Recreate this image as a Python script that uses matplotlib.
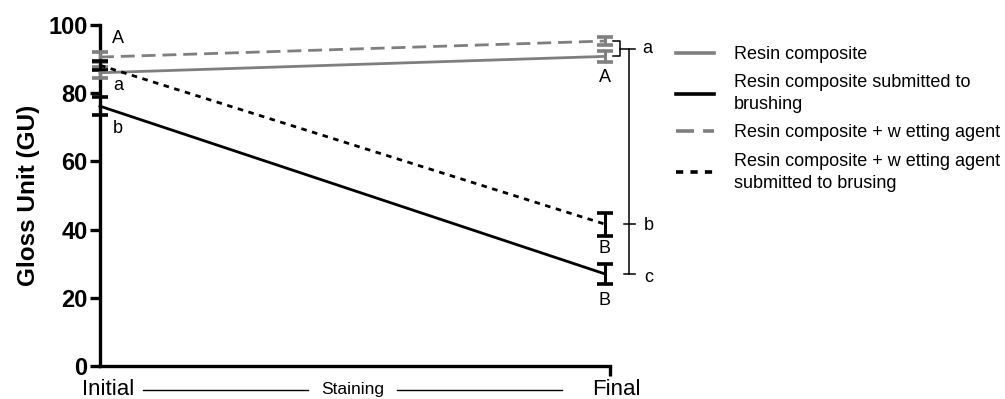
"""
Gloss unit of resin composites before and after staining (line + error bars).
"""
import matplotlib
matplotlib.use("Agg")
import matplotlib.pyplot as plt
from matplotlib.lines import Line2D

plt.rcParams["font.family"] = ["Liberation Sans", "DejaVu Sans"]

# ── Data ──────────────────────────────────────────────
stages = [0.0, 1.0]                 # Initial, Final
stage_labels = ["Initial", "Final"]

rc_mean = [86.0, 90.8]              # Resin composite
rc_sd = [1.6, 1.6]
rcb_mean = [76.2, 27.0]             # ... submitted to brushing
rcb_sd = [2.6, 3.0]
rcw_mean = [90.6, 95.3]             # ... + wetting agent
rcw_sd = [1.4, 1.2]
rcwb_mean = [88.2, 41.6]            # ... + wetting agent submitted to brusing
rcwb_sd = [1.3, 3.4]

labels = [
    "Resin composite",
    "Resin composite submitted to\nbrushing",
    "Resin composite + w etting agent",
    "Resin composite + w etting agent\nsubmitted to brusing",
]

GRAY = "#7f7f7f"
BLACK = "#000000"

fig = plt.figure(figsize=(10.05, 3.99), dpi=100)
ax = fig.add_axes([0.0995, 0.0827, 0.5075, 0.8546])

series = [
    (rc_mean, rc_sd, GRAY, None),
    (rcb_mean, rcb_sd, BLACK, None),
    (rcw_mean, rcw_sd, GRAY, (0, (5, 2.5))),
    (rcwb_mean, rcwb_sd, BLACK, (0, (2, 2))),
]
handles = []
for m, sd, c, dash in series:
    ax.errorbar(stages, m, yerr=sd, color=c, linestyle="none", elinewidth=2.2,
                capsize=5.5, capthick=2.6, clip_on=False, zorder=3)
    line, = ax.plot(stages, m, color=c, lw=2.0, clip_on=False, zorder=4)
    if dash is not None:
        line.set_linestyle(dash)
    handles.append(Line2D([], [], color=c, lw=2.6,
                          linestyle=dash if dash is not None else "-"))

ax.set_xlim(0, 1.01)
ax.set_ylim(0, 100)
ax.set_yticks([0, 20, 40, 60, 80, 100])
ax.tick_params(axis="y", length=7, width=2.4, labelsize=17, pad=2)
for t in ax.get_yticklabels():
    t.set_fontweight("bold")
ax.set_xticks([1.01])
ax.set_xticklabels([""])
ax.tick_params(axis="x", length=7, width=2.4)
ax.spines["top"].set_visible(False)
ax.spines["right"].set_visible(False)
for s in ("left", "bottom"):
    ax.spines[s].set_linewidth(2.4)
ax.set_ylabel("Gloss Unit (GU)", fontsize=17.5, fontweight="bold", labelpad=6)

# ── x-axis labels below the axis ──────────────────────
trans = ax.get_xaxis_transform()
ybelow = -0.07
ax.text(0.016, ybelow, stage_labels[0], transform=trans, ha="center", va="center",
        fontsize=16)
ax.text(1.022, ybelow, stage_labels[1], transform=trans, ha="center", va="center",
        fontsize=16)
ax.text(0.501, ybelow, "Staining", transform=trans, ha="center", va="center",
        fontsize=12.5)
ax.plot([0.085, 0.412], [ybelow, ybelow], transform=trans, color="k", lw=1,
        clip_on=False)
ax.plot([0.588, 0.915], [ybelow, ybelow], transform=trans, color="k", lw=1,
        clip_on=False)

# ── letters of statistical groups ─────────────────────
fs = 13
ax.text(0.036, rcw_mean[0] + 5.5, "A", fontsize=fs, ha="center", va="center")
ax.text(0.036, rc_mean[0] - 3.8, "a", fontsize=fs, ha="center", va="center")
ax.text(0.036, rcb_mean[0] - 6.5, "b", fontsize=fs, ha="center", va="center")
ax.text(1.0, rc_mean[1] - 6.2, "A", fontsize=fs, ha="center", va="center")
ax.text(1.0, rcwb_mean[1] - 7.2, "B", fontsize=fs, ha="center", va="center")
ax.text(1.0, rcb_mean[1] - 7.8, "B", fontsize=fs, ha="center", va="center")

# bracket joining the two unbrushed groups at Final
bx0, bx1, vx, tx0, tx1 = 1.016, 1.030, 1.048, 1.038, 1.060
ax.plot([bx0, bx1, bx1, bx0], [rcw_mean[1], rcw_mean[1], rc_mean[1], rc_mean[1]],
        color="k", lw=1.1, clip_on=False)
mid = (rcw_mean[1] + rc_mean[1]) / 2
ax.plot([bx1, tx1], [mid, mid], color="k", lw=1.1, clip_on=False)
ax.plot([vx, vx], [mid, rcb_mean[1]], color="k", lw=1.1, clip_on=False)
ax.plot([tx0, tx1], [rcwb_mean[1], rcwb_mean[1]], color="k", lw=1.1, clip_on=False)
ax.plot([tx0, tx1], [rcb_mean[1], rcb_mean[1]], color="k", lw=1.1, clip_on=False)
ax.text(1.083, mid, "a", fontsize=fs, ha="center", va="center")
ax.text(1.087, rcwb_mean[1] - 0.5, "b", fontsize=fs, ha="center", va="center")
ax.text(1.087, rcb_mean[1] - 1, "c", fontsize=fs, ha="center", va="center")

leg = fig.legend(handles, labels, loc="upper left", bbox_to_anchor=(0.673, 0.885),
                 frameon=False, fontsize=13, handlelength=2.1, handletextpad=1.1,
                 labelspacing=0.62, borderaxespad=0, borderpad=0)
for t in leg.get_texts():
    t.set_linespacing(1.4)

fig.savefig("out.png", dpi=100)
